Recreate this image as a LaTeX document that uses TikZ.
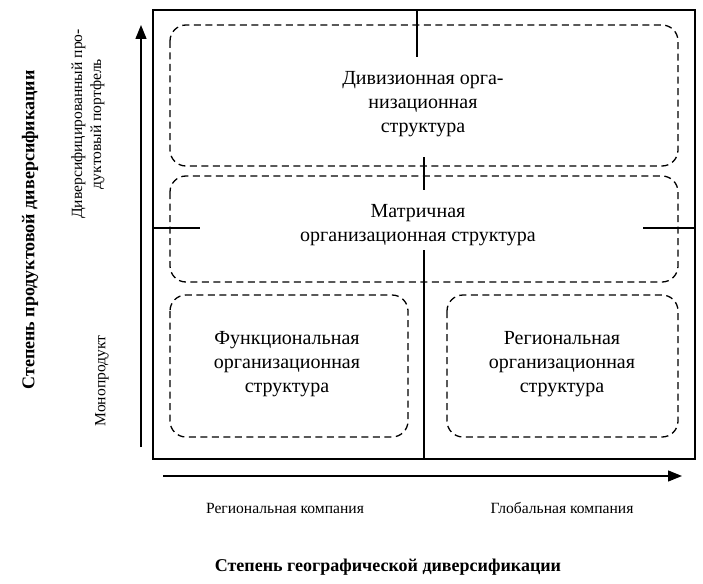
\documentclass[tikz,border=0pt]{standalone}
\usepackage{fontspec}
\setmainfont{Liberation Serif}
\usetikzlibrary{arrows.meta}
\begin{document}
\begin{tikzpicture}[x=1pt,y=-1pt,
  solid line/.style={line width=1.3pt},
  dbox/.style={draw,dashed,line width=1.3pt,dash pattern=on 7pt off 4.5pt,rounded corners=16pt},
  btxt/.style={font=\fontsize{20}{24}\selectfont,align=center},
  stxt/.style={font=\fontsize{15.6}{19}\selectfont,align=center},
  ttl/.style={font=\bfseries\fontsize{18}{22}\selectfont},
  axis/.style={line width=1.3pt,-{Triangle[length=14pt,width=11pt]}}]
\useasboundingbox (0,0) rectangle (703,583);
\draw[solid line] (153,10) rectangle (695,459);
% dashed boxes
\draw[dbox] (170,25) rectangle (678,166);
\draw[dbox] (170,176) rectangle (678,282);
\draw[dbox] (170,295) rectangle (408,437);
\draw[dbox] (447,295) rectangle (678,437);
% dividing lines
\coordinate (t1) at (417,10); \coordinate (t2) at (417,57);
\draw[solid line] (t1) -- (t2);
\coordinate (m1) at (424,157); \coordinate (m2) at (424,190);
\draw[solid line] (m1) -- (m2);
\coordinate (l1) at (153,228); \coordinate (l2) at (200,228);
\draw[solid line] (l1) -- (l2);
\coordinate (r1) at (643,228); \coordinate (r2) at (695,228);
\draw[solid line] (r1) -- (r2);
\coordinate (v1) at (424,250); \coordinate (v2) at (424,459);
\draw[solid line] (v1) -- (v2);
% texts
\node[btxt] (div) at (423,104) {Дивизионная орга-\\низационная\\структура};
\node[btxt] (mat) at (418,225) {Матричная\\организационная структура};
\node[btxt] (fun) at (287,364) {Функциональная\\организационная\\структура};
\node[btxt] (reg) at (562,364) {Региональная\\организационная\\структура};
% axes
\coordinate (ya) at (141,447); \coordinate (yb) at (141,25);
\draw[axis] (ya) -- (yb);
\coordinate (xa) at (163,476); \coordinate (xb) at (682,476);
\draw[axis] (xa) -- (xb);
\node[stxt] (rc) at (285,508) {Региональная компания};
\node[stxt] (gc) at (562,508) {Глобальная компания};
\node[ttl] (gx) at (388,567) {Степень географической диверсификации};
\node[ttl,rotate=90] (gy) at (30,230) {Степень продуктовой диверсификации};
\node[stxt,rotate=90] (dp) at (88,124) {Диверсифицированный про-\\дуктовый портфель};
\node[stxt,rotate=90] (mp) at (102,381) {Монопродукт};
\end{tikzpicture}
\end{document}
